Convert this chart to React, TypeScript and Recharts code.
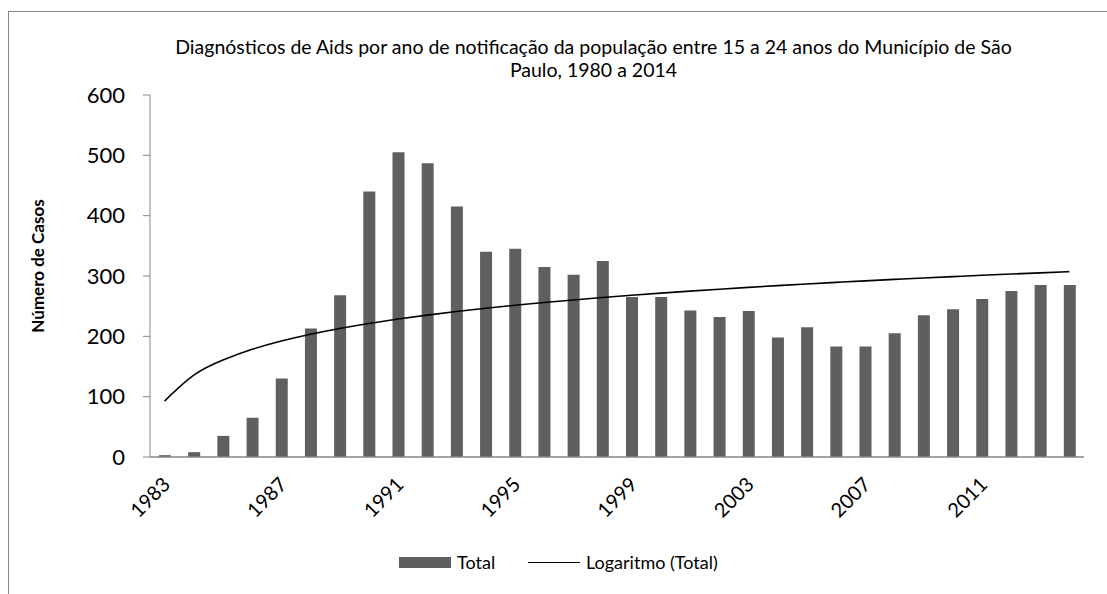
import React from 'react';
import { Bar, ComposedChart, Line, XAxis, YAxis } from 'recharts';

const years = [
  1983, 1984, 1985, 1986, 1987, 1988, 1989, 1990, 1991, 1992, 1993, 1994, 1995, 1996, 1997, 1998,
  1999, 2000, 2001, 2002, 2003, 2004, 2005, 2006, 2007, 2008, 2009, 2010, 2011, 2012, 2013, 2014,
];
const totals = [
  3, 8, 35, 65, 130, 213, 268, 440, 505, 487, 415, 340, 345, 315, 302, 325,
  265, 265, 243, 232, 242, 198, 215, 183, 183, 205, 235, 245, 262, 275, 285, 285,
];
const yTicks = [0, 100, 200, 300, 400, 500, 600];

// Excel-style log trendline: least squares of total against ln(index), index = 1..n
const lnX = totals.map((_, i) => Math.log(i + 1));
const meanLn = lnX.reduce((s, v) => s + v, 0) / lnX.length;
const meanY = totals.reduce((s, v) => s + v, 0) / totals.length;
const slope =
  lnX.reduce((s, v, i) => s + (v - meanLn) * (totals[i] - meanY), 0) /
  lnX.reduce((s, v) => s + (v - meanLn) ** 2, 0);
const intercept = meanY - slope * meanLn;

const data = years.map((year, i) => ({
  year: String(year),
  total: totals[i],
  trend: intercept + slope * lnX[i],
}));

const FONT = 'Lato, "Open Sans", sans-serif';

const YearTick = (props: any) => {
  const { x, y, payload } = props;
  return (
    <g transform={`translate(${x - 3},${y + 11}) rotate(-45)`}>
      <text textAnchor="end" dy="0.7em" fontSize={20} fill="#000" fontFamily={FONT}>
        {payload.value}
      </text>
    </g>
  );
};

export default function App() {
  return (
    <div style={{ position: 'absolute', left: 0, top: 0, width: 1107, height: 594, background: '#fff', overflow: 'hidden', fontFamily: FONT }}>
      <div style={{ position: 'absolute', left: 8, top: 11, width: 1200, height: 700, borderLeft: '1.3px solid #868686', borderTop: '1.3px solid #868686' }} />
      <div style={{ position: 'absolute', left: 0, top: 35, width: 1187, textAlign: 'center', fontSize: 19.5, lineHeight: '23px', color: '#000' }}>
        Diagnósticos de Aids por ano de notificação da população entre 15 a 24 anos do Município de São
        <br />
        Paulo, 1980 a 2014
      </div>
      <div
        style={{
          position: 'absolute', left: 37, top: 266, transform: 'translate(-50%,-50%) rotate(-90deg)',
          fontSize: 17, fontWeight: 700, whiteSpace: 'nowrap', color: '#000',
        }}
      >
        Número de Casos
      </div>
      <div style={{ position: 'absolute', left: 0, top: 0 }}>
        <ComposedChart width={1107} height={594} data={data} margin={{ top: 95, right: 23, left: 90, bottom: 0 }} barCategoryGap={17}>
          <XAxis
            dataKey="year"
            interval={3}
            tickLine={false}
            axisLine={{ stroke: '#868686', strokeWidth: 1.5 }}
            tick={<YearTick />}
            height={137}
          />
          <YAxis
            domain={[0, 600]}
            ticks={yTicks}
            width={60}
            tickSize={7}
            tickMargin={18}
            tickLine={{ stroke: '#868686' }}
            axisLine={{ stroke: '#868686' }}
            tick={{ fontSize: 22, fill: '#000', fontFamily: FONT }}
          />
          <Bar dataKey="total" fill="#5f5f5f" barSize={12} isAnimationActive={false} />
          <Line dataKey="trend" type="natural" stroke="#000" strokeWidth={1.6} dot={false} isAnimationActive={false} />
        </ComposedChart>
      </div>
      <div style={{ position: 'absolute', left: 399, top: 557, width: 52, height: 11, background: '#5f5f5f' }} />
      <div style={{ position: 'absolute', left: 457, top: 551, fontSize: 18, lineHeight: '22px', color: '#000' }}>Total</div>
      <div style={{ position: 'absolute', left: 528, top: 562, width: 52, height: 0, borderTop: '1.5px solid #000' }} />
      <div style={{ position: 'absolute', left: 586, top: 551, fontSize: 18, lineHeight: '22px', color: '#000' }}>Logaritmo (Total)</div>
    </div>
  );
}
